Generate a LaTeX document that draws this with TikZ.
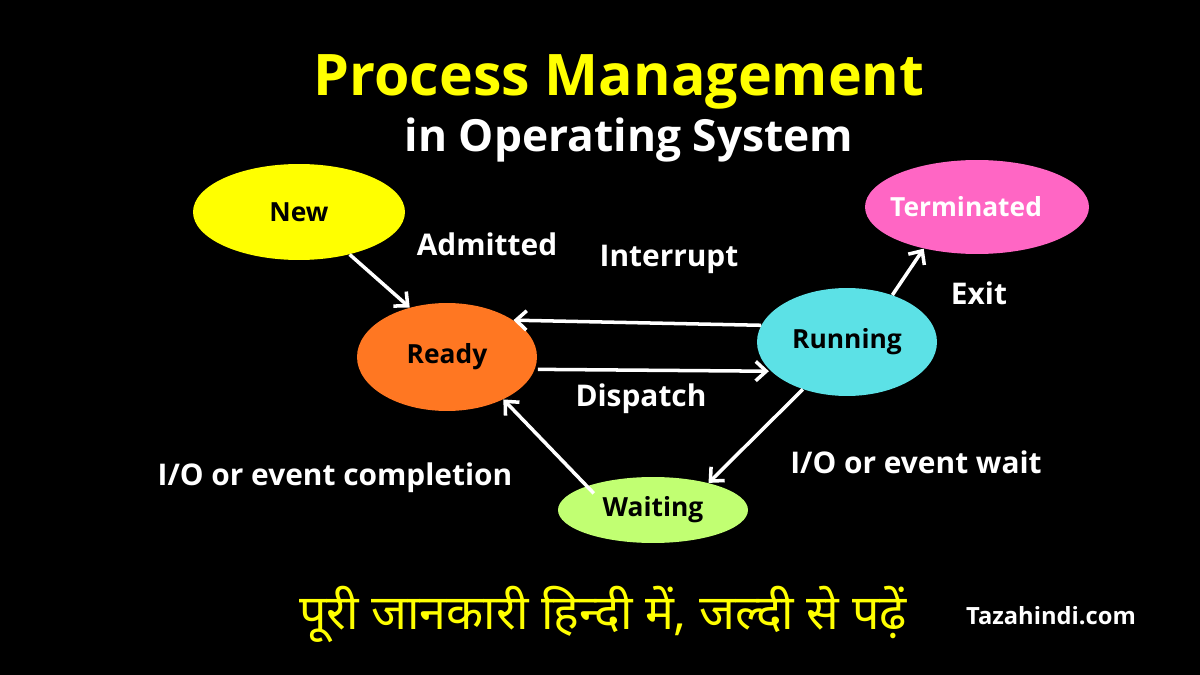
\documentclass[tikz,border=0pt]{standalone}
\usepackage{fontspec}
\setmainfont{Open Sans}
\newfontfamily\deva[Script=Devanagari]{Noto Sans}
\usetikzlibrary{shapes.geometric,arrows.meta}
\definecolor{cnew}{HTML}{FFFF00}
\definecolor{cterm}{HTML}{FF66C4}
\definecolor{cready}{HTML}{FF7722}
\definecolor{crun}{HTML}{5CE1E6}
\definecolor{cwait}{HTML}{C1FF72}
\definecolor{ctitle}{HTML}{FFFF00}
\tikzset{
  state/.style={ellipse, inner sep=0pt, font=\bfseries\fontsize{15}{18}\selectfont, text=black},
  lbl/.style={text=white, font=\bfseries\fontsize{17}{20}\selectfont, inner sep=0pt},
  conn/.style={draw=white, line width=2pt, -{Straight Barb[length=6pt,width=11pt,line width=2pt]}},
}
\begin{document}
\begin{tikzpicture}[x=0.02cm,y=-0.02cm]
\fill[black] (0,0) rectangle (1200,675);
\useasboundingbox (0,0) rectangle (1200,675);

\node[text=ctitle, font=\bfseries\fontsize{32.6}{38}\selectfont, inner sep=0pt] (t1) at (619,82) {Process Management};
\node[text=white, font=\bfseries\fontsize{25.2}{30}\selectfont, inner sep=0pt] (t2) at (629,140) {in Operating System};

\node[state, fill=cnew, minimum width=4.24cm, minimum height=1.92cm] (new) at (299,212) {New};
\node[state, fill=cterm, text=white, minimum width=4.48cm, minimum height=1.88cm] (term) at (977,207) {\makebox[0pt]{\hspace*{-0.44cm}Terminated}};
\node[state, fill=cready, minimum width=3.6cm, minimum height=2.16cm] (ready) at (447,357) {Ready};
\node[state, fill=crun, minimum width=3.6cm, minimum height=2.16cm] (run) at (847,342) {Running};
\node[state, fill=cwait, minimum width=3.8cm, minimum height=1.32cm] (wait) at (653,510) {Waiting};

\node[lbl] (ladm) at (487,244) {Admitted};
\node[lbl] (lint) at (669,259) {Interrupt};
\node[lbl] (ldis) at (641,399) {Dispatch};
\node[lbl] (lexit) at (979,293) {Exit};
\node[lbl] (lwait) at (916,462) {I/O or event wait};
\node[lbl] (lcomp) at (335,478) {I/O or event completion};

\draw[conn] (new.-40) -- (ready.127);
\draw[conn] (run.169) -- (ready.29);
\draw[conn] ([xshift=0.06cm]ready.-8) -- ([xshift=-0.04cm]run.-159);
\draw[conn] (run.-133) -- (wait.26);
\draw[conn] ([shift={(0.1cm,-0.16cm)}]wait.159) -- (ready.-37);
\draw[conn] (run.46) -- (term.-142);

\node[text=ctitle, font=\deva\fontsize{27.5}{34}\selectfont, inner sep=0pt] (hindi) at (603,614) {पूरी जानकारी हिन्दी में{\bfseries,} जल्दी से पढ़ें};
\node[text=white, font=\bfseries\fontsize{13.5}{16}\selectfont, inner sep=0pt] (site) at (1051,616) {Tazahindi.com};
\end{tikzpicture}
\end{document}
